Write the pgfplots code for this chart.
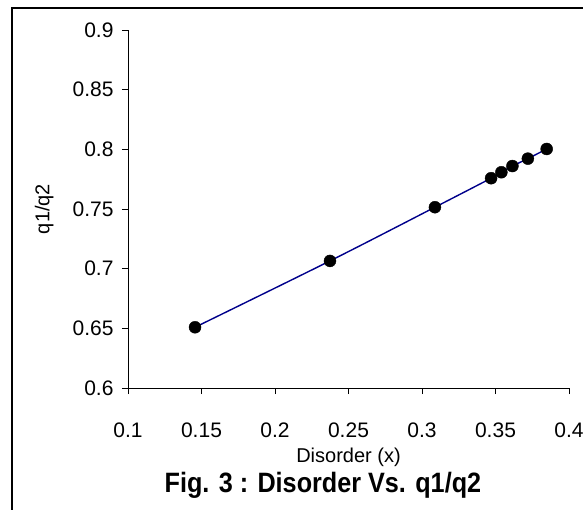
\documentclass[border=0pt]{standalone}
\usepackage{fontspec}
\setmainfont{Liberation Sans}
\usepackage{graphicx}
\usepackage{pgfplots}
\pgfplotsset{compat=1.18}
\definecolor{linenavy}{HTML}{00008B}

\begin{document}
\begin{tikzpicture}[x=1pt,y=1pt]
% outer frame (right and bottom edges fall outside the crop)
\draw[line width=1.3pt] (12,-20) -- (12,501) -- (620,501);
\begin{axis}[
  at={(128pt,121pt)}, anchor=south west,
  scale only axis,
  width=441pt, height=358pt,
  xmin=0.1, xmax=0.4, ymin=0.6, ymax=0.9,
  xtick={0.1,0.15,...,0.41}, ytick={0.6,0.65,...,0.91},
  axis x line*=bottom, axis y line*=left,
  axis line style={black, line width=0.9pt, -},
  tick align=outside, major tick length=6pt,
  tick style={black, line width=0.9pt},
  tick label style={font=\fontsize{21}{23}\selectfont},
  /pgf/number format/assume math mode=true,
  /pgf/number format/.cd, fixed, precision=2, /pgfplots/.cd,
  yticklabel style={xshift=-5pt},
  xticklabel style={yshift=-25pt},
  xlabel={Disorder (x)}, ylabel={q1/q2},
  label style={font=\fontsize{20}{22}\selectfont},
  xlabel style={at={(axis description cs:0.5,-0.193)}, anchor=center},
  ylabel style={at={(axis description cs:-0.19,0.5)}, anchor=center, rotate=0},
  clip=false,
]
\addplot[linenavy, line width=1.4pt, smooth] coordinates {
  (0.1456,0.6509) (0.2374,0.7065) (0.3088,0.7515) (0.3470,0.7758)
  (0.3540,0.7808) (0.3615,0.7860) (0.3720,0.7922) (0.3848,0.8003)
};
\addplot[only marks, mark=*, mark size=6pt, black] coordinates {
  (0.1456,0.6509) (0.2374,0.7065) (0.3088,0.7515) (0.3470,0.7758)
  (0.3540,0.7808) (0.3615,0.7860) (0.3720,0.7922) (0.3848,0.8003)
};
\node[anchor=center]
  at (axis description cs:0.442,-0.271)
  {\scalebox{0.9}[1]{\fontsize{28}{30}\selectfont\bfseries Fig. 3 : Disorder Vs. q1/q2}};
\end{axis}
\pgfresetboundingbox
\useasboundingbox (0,0) rectangle (583,509);
\end{tikzpicture}
\end{document}
